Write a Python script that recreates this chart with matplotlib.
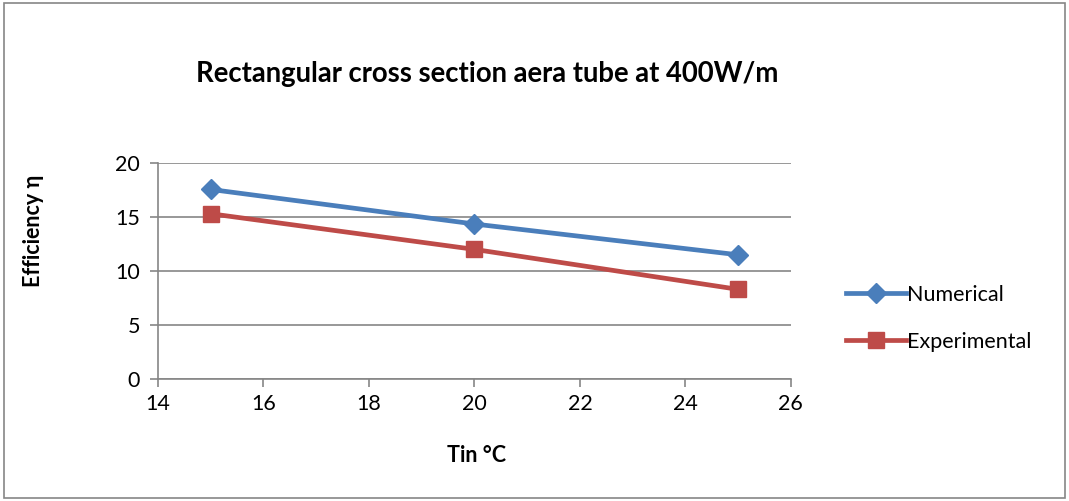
import matplotlib
matplotlib.use("Agg")
import matplotlib.pyplot as plt
from matplotlib.patches import Rectangle

# data
tin = [15, 20, 25]
numerical = [17.55, 14.35, 11.5]
experimental = [15.3, 12.0, 8.3]

BLUE = "#4A7EBB"
RED = "#BE4B48"
GREY = "#868686"

plt.rcParams["font.family"] = ["Lato", "DejaVu Sans"]

fig = plt.figure(figsize=(10.69, 5.01), dpi=100)
fig.patches.append(Rectangle((0.004, 0.005), 0.992, 0.99, transform=fig.transFigure,
                             fill=False, edgecolor=GREY, linewidth=1.2))

ax = fig.add_axes([0.1478, 0.2435, 0.592, 0.4312])
ax.plot(tin, numerical, color=BLUE, linewidth=3.4, marker="D", markersize=10.5,
        label="Numerical")
ax.plot(tin, experimental, color=RED, linewidth=3.4, marker="s", markersize=12,
        label="Experimental")

ax.set_xlim(14, 26)
ax.set_ylim(0, 20)
ax.set_xticks(range(14, 27, 2))
ax.set_yticks(range(0, 21, 5))
ax.grid(axis="y", color=GREY, linewidth=1.2)
ax.set_axisbelow(True)
for s in ("top", "right"):
    ax.spines[s].set_visible(False)
for s in ("left", "bottom"):
    ax.spines[s].set_color(GREY)
    ax.spines[s].set_linewidth(1.2)
ax.tick_params(axis="both", colors=GREY, labelcolor="black", labelsize=15.5,
               length=6, width=1.2)
ax.tick_params(axis="y", pad=7)
ax.tick_params(axis="x", pad=5)

fig.text(0.446, 0.09, "Tin °C", ha="center", va="center",
         fontsize=15.5, fontweight="bold")
fig.text(0.031, 0.54, "Efficiency η", ha="center", va="center", rotation=90,
         fontsize=15.5, fontweight="bold")
fig.text(0.4555, 0.853, "Rectangular cross section aera tube at 400W/m",
         ha="center", va="center", fontsize=19.8, fontweight="bold")

ax.legend(loc="center left", bbox_to_anchor=(1.07, 0.282), frameon=False,
          fontsize=15.5, handlelength=2.8, handletextpad=0.05, labelspacing=1.25,
          borderpad=0)

fig.savefig("out.png", dpi=100)
